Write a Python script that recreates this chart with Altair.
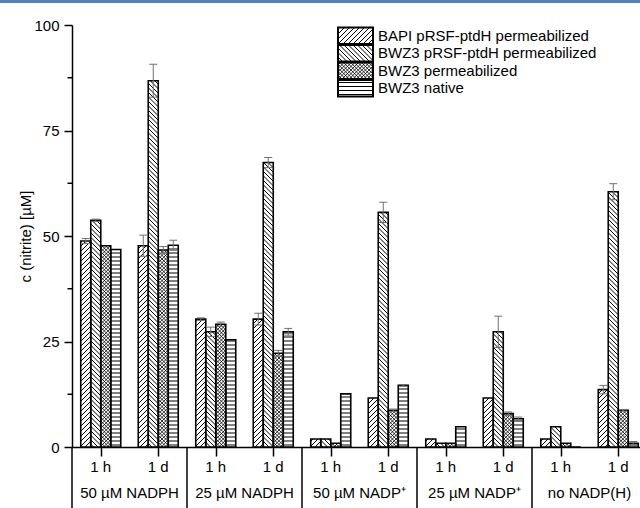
import math
import altair as alt
import pandas as pd

# ---------------- data ----------------
conditions = ["50 µM NADPH", "25 µM NADPH", "50 µM NADP⁺", "25 µM NADP⁺", "no NADP(H)"]
times = ["1 h", "1 d"]
series = ["BAPI pRSF-ptdH permeabilized", "BWZ3 pRSF-ptdH permeabilized",
          "BWZ3 permeabilized", "BWZ3 native"]

# order: cond1 1h, cond1 1d, cond2 1h, ...
bapi_prsf = [48.8, 47.7, 30.3, 30.3, 1.9, 11.6, 1.9, 11.6, 1.9, 13.6]
bwz3_prsf = [53.7, 86.8, 27.3, 67.4, 1.9, 55.6, 0.9, 27.3, 4.8, 60.5]
bwz3_perm = [47.7, 46.7, 29.1, 22.2, 0.9, 8.7, 0.9, 7.9, 0.9, 8.7]
bwz3_native = [46.8, 47.8, 25.4, 27.3, 12.6, 14.6, 4.8, 6.7, 0.0, 0.9]

err_bapi_prsf = [0.6, 2.5, 0.3, 1.4, 0.0, 0.0, 0.0, 0.0, 0.0, 1.0]
err_bwz3_prsf = [0.3, 3.9, 1.1, 1.2, 0.0, 2.4, 0.0, 3.7, 0.0, 1.9]
err_bwz3_perm = [0.0, 0.8, 0.5, 0.7, 0.0, 0.3, 0.0, 0.4, 0.0, 0.2]
err_bwz3_native = [0.0, 1.2, 0.0, 0.8, 0.0, 0.2, 0.0, 0.4, 0.0, 0.4]

y_major = [0, 25, 50, 75, 100]
y_minor = [12.5, 37.5, 62.5, 87.5]

values = [bapi_prsf, bwz3_prsf, bwz3_perm, bwz3_native]
errors = [err_bapi_prsf, err_bwz3_prsf, err_bwz3_perm, err_bwz3_native]
patterns = ["/", "\\", "x", "h"]

# ---------------- layout ----------------
W, H = 568, 422
STEP = 57.5          # px per time slot
BARW = 10.0          # px per bar
YMAX = 100.0
XMAX = W / STEP
FONT = "Liberation Sans"
nslots = len(conditions) * len(times)


def dx(px):
    return px / STEP


def dy(py):
    return (H - py) * YMAX / H


def hatch(x0, x1, yt, yb, kind):
    segs = []
    if kind == "h":
        y = yb - 2.0
        while y > yt + 0.8:
            segs.append((x0, y, x1, y, 1.0))
            y -= 4.0
        return segs
    specs = []
    if kind == "/":
        specs = [("/", 5.0, 1.0)]
    elif kind == "\\":
        specs = [("\\", 4.5, 1.0)]
    elif kind == "x":
        specs = [("/", 3.6, 0.8), ("\\", 3.6, 0.8)]
    for d, p, w in specs:
        if d == "/":
            cmin, cmax = x0 + yt, x1 + yb
            m = math.ceil(cmin / p)
            while m * p <= cmax:
                c = m * p
                lo, hi = max(x0, c - yb), min(x1, c - yt)
                if hi - lo > 0.3:
                    segs.append((lo, c - lo, hi, c - hi, w))
                m += 1
        else:
            cmin, cmax = yt - x1, yb - x0
            m = math.ceil(cmin / p)
            while m * p <= cmax:
                c = m * p
                lo, hi = max(x0, yt - c), min(x1, yb - c)
                if hi - lo > 0.3:
                    segs.append((lo, lo + c, hi, hi + c, w))
                m += 1
    return segs


bars, hatches, errs = [], [], []
for i in range(nslots):
    cx = STEP * (i + 0.5)
    for s in range(len(series)):
        v = values[s][i]
        e = errors[s][i]
        x0 = cx + (s - 2) * BARW
        x1 = x0 + BARW
        yt = H - v * H / YMAX
        bars.append(dict(x=dx(x0), x2=dx(x1), y=0.0, y2=v, series=series[s]))
        if v > 0:
            for (a, b, c, d, w) in hatch(x0, x1, yt, H, patterns[s]):
                hatches.append(dict(x=dx(a), y=dy(b), x2=dx(c), y2=dy(d), w=w))
        if e > 0:
            xc = x0 + BARW / 2
            errs.append(dict(x=dx(xc), x2=dx(xc), y=v - e, y2=v + e))
            for yy in (v - e, v + e):
                errs.append(dict(x=dx(xc - 4), x2=dx(xc + 4), y=yy, y2=yy))

# legend (pixel positions relative to the plot, converted through the scales)
LX0, LX1, LTOP, LSTEP, LH = 266.0, 301.0, 2.5, 17.5, 16.5
leg_rects, leg_hatch, leg_text = [], [], []
for s, name in enumerate(series):
    t = LTOP + s * LSTEP
    b = t + LH
    leg_rects.append(dict(x=dx(LX0), x2=dx(LX1), y=dy(b), y2=dy(t)))
    for (a, bb, c, d, w) in hatch(LX0, LX1, t, b, patterns[s]):
        leg_hatch.append(dict(x=dx(a), y=dy(bb), x2=dx(c), y2=dy(d), w=w))
    leg_text.append(dict(x=dx(LX1 + 5), y=dy((t + b) / 2), label=name))

time_labels = [dict(x=i + 0.5, label=times[i % 2]) for i in range(nslots)]
group_labels = [dict(x=2 * j + 1.0, label=c) for j, c in enumerate(conditions)]
separators = [dict(x=2.0 * j) for j in range(len(conditions))]
minor = [dict(y=v) for v in y_minor]

# ---------------- scales / axes ----------------
xscale = alt.Scale(domain=[0, XMAX], nice=False, zero=False)
yscale = alt.Scale(domain=[0, YMAX], nice=False)
xax = alt.Axis(values=[i + 0.5 for i in range(nslots)], labels=False, tickSize=9,
               tickWidth=1.5, tickColor="black", domainColor="black", domainWidth=1.5,
               grid=False, title=None)
yax = alt.Axis(values=y_major, tickSize=8, tickWidth=1.5, tickColor="black",
               domainColor="black", domainWidth=1.5, grid=False,
               labelFont=FONT, labelFontSize=15, labelColor="black", labelPadding=5,
               title="c (nitrite) [µM]", titleFont=FONT, titleFontSize=15,
               titleFontWeight="normal", titleColor="black", titleX=-47, titleY=H / 2,
               titleAlign="center", titleBaseline="middle", titleAngle=270)


def X(f="x"):
    return alt.X(f"{f}:Q", scale=xscale, axis=xax)


def Y(f="y"):
    return alt.Y(f"{f}:Q", scale=yscale, axis=yax)


def seg_layer(df, color="black", width=None):
    m = alt.Chart(pd.DataFrame(df)).mark_rule(color=color, strokeCap="butt") if width is None \
        else alt.Chart(pd.DataFrame(df)).mark_rule(color=color, strokeWidth=width, strokeCap="butt")
    enc = dict(x=X(), x2="x2:Q", y=Y(), y2="y2:Q")
    if width is None:
        enc["strokeWidth"] = alt.StrokeWidth("w:Q", scale=None, legend=None)
    return m.encode(**enc)


bar_df = pd.DataFrame(bars)
bar_fill = alt.Chart(bar_df).mark_rect(fill="white", strokeWidth=0).encode(
    x=X(), x2="x2:Q", y=Y(), y2="y2:Q")
bar_hatch = seg_layer(hatches)
bar_outline = alt.Chart(bar_df).mark_rect(filled=False, stroke="black", strokeWidth=1.6).encode(
    x=X(), x2="x2:Q", y=Y(), y2="y2:Q")
err_layer = seg_layer(errs, color="#707070", width=1.0)

leg_df = pd.DataFrame(leg_rects)
leg_fill = alt.Chart(leg_df).mark_rect(fill="white", strokeWidth=0).encode(
    x=X(), x2="x2:Q", y=Y(), y2="y2:Q")
leg_h = seg_layer(leg_hatch)
leg_outline = alt.Chart(leg_df).mark_rect(filled=False, stroke="black", strokeWidth=2).encode(
    x=X(), x2="x2:Q", y=Y(), y2="y2:Q")
leg_txt = alt.Chart(pd.DataFrame(leg_text)).mark_text(
    align="left", baseline="middle", font=FONT, fontSize=15, color="black").encode(
    x=X(), y=Y(), text="label:N")

tlab = alt.Chart(pd.DataFrame(time_labels)).mark_text(
    align="center", baseline="middle", font=FONT, fontSize=15, color="black").encode(
    x=X(), y=alt.value(H + 20), text="label:N")
glab = alt.Chart(pd.DataFrame(group_labels)).mark_text(
    align="center", baseline="middle", font=FONT, fontSize=15, color="black").encode(
    x=X(), y=alt.value(H + 46), text="label:N")
sep = alt.Chart(pd.DataFrame(separators)).mark_rule(color="black", strokeWidth=1.5).encode(
    x=X(), y=alt.value(H), y2=alt.value(H + 62))
minor_ticks = alt.Chart(pd.DataFrame(minor)).mark_rule(color="black", strokeWidth=1.5).encode(
    y=Y(), x=alt.value(-4.5), x2=alt.value(0))
topline = alt.Chart(pd.DataFrame(separators[:1])).mark_rule(
    color="#4f81bd", strokeWidth=3).encode(
    x=alt.value(-72), x2=alt.value(W), y=alt.value(-23.5))

chart = alt.layer(
    bar_fill, bar_hatch, bar_outline, err_layer,
    leg_fill, leg_h, leg_outline, leg_txt,
    tlab, glab, sep, minor_ticks, topline,
).properties(
    width=W, height=H, autosize="none",
    padding={"left": 72, "top": 25, "right": 0, "bottom": 61},
    background="white",
).configure_view(strokeWidth=0)

chart.save("out.html", embed_options={"renderer": "svg", "actions": False})
